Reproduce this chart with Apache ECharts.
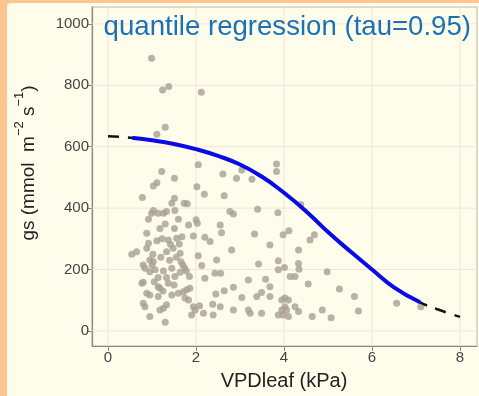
<!DOCTYPE html>
<html><head><meta charset="utf-8">
<script src="https://cdn.jsdelivr.net/npm/echarts@6/dist/echarts.min.js"></script>
<style>html,body{margin:0;padding:0;background:#fdc590;}#c{width:479px;height:396px;}</style>
</head><body><div id="c"></div>
<script>
// scatter data (VPDleaf kPa, gs mmol m-2 s-1)
var ptX = [0.99,1.24,1.38,2.12,1.30,1.11,1.22,1.51,1.11,1.03,0.78,1.51,1.45,1.03,0.99,1.14,1.26,1.33,1.52,0.92,1.30,1.60,1.18,1.51,0.88,1.73,1.37,1.11,1.56,0.92,
0.65,0.88,0.54,1.33,1.48,1.64,0.95,1.03,0.84,0.95,1.07,1.26,1.45,1.14,1.33,1.52,1.64,0.80,1.37,1.14,1.18,0.88,0.95,1.45,1.14,1.60,0.80,0.84,1.18,1.26,1.33,0.95,1.30,0.80,0.77,1.00,1.20,1.40,
2.05,2.61,2.92,2.02,2.19,2.64,1.80,2.77,2.85,2.00,2.03,1.83,2.55,2.58,1.94,1.68,2.20,2.32,
2.81,2.05,2.47,2.13,1.66,1.70,1.74,1.78,1.85,2.43,2.56,2.20,2.85,2.64,1.71,1.79,1.86,1.75,1.83,2.45,2.38,2.55,1.94,1.98,2.08,2.17,2.39,2.85,1.90,
3.83,3.83,3.04,3.27,3.40,3.86,3.33,3.98,4.11,3.68,4.33,3.42,3.87,4.01,3.87,4.33,3.19,3.58,4.14,3.68,3.04,3.38,3.49,3.68,3.95,4.02,4.10,4.02,3.95,4.06,3.19,3.23,3.49,3.87,3.98,4.10,4.33,
4.69,4.59,4.34,4.25,4.98,4.55,5.26,5.60,5.69,4.87,4.64,5.07,4.25,6.56,7.11,
1.02,1.55,1.62,1.42,1.25,1.50,1.05,1.23,4.38];
var ptY = [888,785,796,777,663,641,519,497,483,472,435,432,416,392,383,383,383,389,392,364,348,364,334,334,318,416,296,294,302,286,
258,269,250,258,269,253,231,226,204,193,199,195,204,174,174,177,191,159,155,144,139,123,117,117,112,123,90,79,68,74,85,47,28,215,155,215,240,230,
541,511,497,470,445,440,414,389,381,362,351,345,345,320,309,307,305,291,
264,245,231,213,225,215,205,195,177,188,188,172,142,131,128,134,139,107,101,120,87,79,79,68,82,58,52,68,52,
544,519,524,494,396,385,316,313,326,280,264,218,229,207,199,220,166,168,177,144,109,112,125,112,101,107,101,79,68,68,68,58,58,52,52,47,63,
313,296,201,177,193,153,137,112,65,68,47,43,79,90,79,
250,240,283,282,130,150,160,300,412];

// quantile regression fit (tau = 0.95)
var fitX = [0,0.3,0.58,1.0,1.5,2.0,2.5,3.0,3.5,4.0,4.5,5.0,5.5,6.0,6.5,7.07,7.5,8.0];
var fitY = [634,632,628,621,609,592,570,542,502,450,390,322,260,200,142,95,70,46];
var fitStart = 0.58, fitEnd = 7.07;

var xTicks = [0,2,4,6,8];
var yTicks = [0,200,400,600,800,1000];
var xMin = -0.364, xMax = 8.386, yMin = -49, yMax = 1055;

var pts = ptX.map(function(x,i){return [x, ptY[i]];});
var fitAll = fitX.map(function(x,i){return [x, fitY[i]];});
var fitObs = fitAll.filter(function(p){return p[0] >= fitStart && p[0] <= fitEnd;});

var gridStyle = {color:'#f6e3d2', width:1};
var gridSeries = [];
xTicks.forEach(function(v){
  gridSeries.push({type:'line', z:1, silent:true, showSymbol:false, data:[[v,yMin],[v,yMax]], lineStyle:gridStyle});
});
yTicks.forEach(function(v){
  gridSeries.push({type:'line', z:1, silent:true, showSymbol:false, data:[[xMin,v],[xMax,v]], lineStyle:gridStyle});
});

var FONT = 'Liberation Sans, Arial, sans-serif';
var chart = echarts.init(document.getElementById('c'), null, {renderer:'canvas'});
chart.setOption({
  animation:false,
  backgroundColor:'transparent',
  grid:{left:92, right:2, top:7, bottom:50, show:true, borderColor:'#bdb7a8', borderWidth:1, backgroundColor:'transparent'},
  xAxis:{type:'value', min:xMin, max:xMax,
    axisLine:{show:true, onZero:false, lineStyle:{color:'#8a867e', width:1.2}},
    axisTick:{show:true, length:5, customValues:xTicks, lineStyle:{color:'#8a867e'}},
    axisLabel:{customValues:xTicks, color:'#444', fontSize:15, fontFamily:FONT, margin:4, formatter:function(v){return String(v);}},
    splitLine:{show:false}},
  yAxis:{type:'value', min:yMin, max:yMax,
    axisLine:{show:true, onZero:false, lineStyle:{color:'#8a867e', width:1.2}},
    axisTick:{show:true, length:5, customValues:yTicks, lineStyle:{color:'#8a867e'}},
    axisLabel:{customValues:yTicks, color:'#444', fontSize:15, fontFamily:FONT, margin:3, formatter:function(v){return String(v);}},
    splitLine:{show:false}},
  graphic:[
    {type:'rect', z:-10, silent:true, shape:{x:7, y:3, width:472, height:393, r:[4,0,0,0]}, style:{fill:'#fefdeb'}},
    {type:'text', z:10, x:471, y:27, style:{text:'quantile regression (tau=0.95)', fill:'#1b71b5', font:'27.6px ' + FONT, align:'right', verticalAlign:'middle'}},
    {type:'text', z:10, x:284, y:381, style:{text:'VPDleaf (kPa)', fill:'#222', font:'20px ' + FONT, align:'center', verticalAlign:'middle'}},
    {type:'text', z:10, x:27, y:163, rotation:Math.PI/2, style:{
      text:'{n|gs (mmol  m}{s|\u22122}{n| s}{s|\u22121}{n|)}', align:'center', verticalAlign:'middle', fill:'#222',
      rich:{n:{fontSize:19, fontFamily:FONT, fill:'#222', lineHeight:22, verticalAlign:'bottom'},
            s:{fontSize:13, fontFamily:FONT, fill:'#222', lineHeight:13, verticalAlign:'bottom', padding:[0,0,12,0]}}}}
  ],
  series:gridSeries.concat([
    {type:'scatter', data:pts, z:2, symbol:'circle', symbolSize:7, itemStyle:{color:'#a89f95'}, silent:true},
    {type:'line', data:fitAll, z:3, smooth:true, showSymbol:false, silent:true,
     lineStyle:{color:'#111', width:2.5, type:[11,9]}},
    {type:'line', data:fitObs, z:4, smooth:true, showSymbol:false, silent:true,
     lineStyle:{color:'#0a0ae8', width:4, cap:'round'}}
  ])
});
</script></body></html>
